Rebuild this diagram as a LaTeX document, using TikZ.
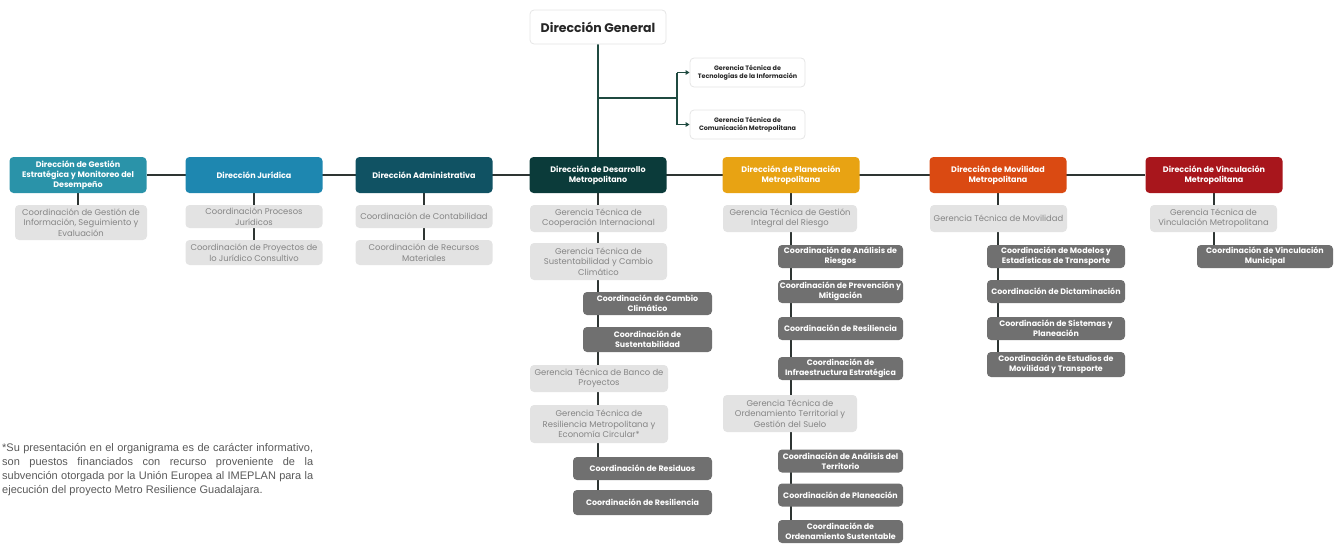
\documentclass[tikz,border=0pt]{standalone}
\usepackage{fontspec}
\setmainfont{Poppins}
\newfontfamily\notefont{Liberation Sans}
\usetikzlibrary{backgrounds,arrows.meta}
\definecolor{cGE}{HTML}{2A93A9}
\definecolor{cDJ}{HTML}{1E87B0}
\definecolor{cDA}{HTML}{105263}
\definecolor{cDD}{HTML}{0B3B3A}
\definecolor{cDP}{HTML}{E8A313}
\definecolor{cDM}{HTML}{DA4A12}
\definecolor{cDV}{HTML}{A8161C}
\definecolor{lite}{HTML}{E3E3E3}
\definecolor{litetxt}{HTML}{858585}
\definecolor{darkbox}{HTML}{707070}
\definecolor{conn}{HTML}{2E3533}
\definecolor{topconn}{HTML}{1F4A40}
\definecolor{notecol}{HTML}{595959}
\tikzset{
  base/.style={rounded corners=4pt, inner sep=0pt, align=center, anchor=center},
  dirbox/.style={base, fill=#1, text=white, minimum width=137pt, minimum height=36pt,
    font=\fontsize{8}{10}\selectfont\bfseries},
  litebox/.style={base, fill=lite, text=litetxt, minimum height=#1,
    font=\fontsize{8.4}{10.5}\selectfont},
  darkbx/.style={base, fill=darkbox, text=white, minimum height=#1,
    font=\fontsize{7.9}{9.6}\selectfont\bfseries},
  topbox/.style={base, fill=white, draw=black!10, line width=0.8pt, text=black!85},
  connline/.style={draw=conn, line width=1.6pt},
  topline/.style={draw=topconn, line width=1.6pt},
}
\begin{document}
\begin{tikzpicture}[x=1pt,y=-1pt]
\useasboundingbox (0,0) rectangle (1339,546);
% top
\node[topbox, minimum width=136pt, minimum height=34pt, font=\fontsize{12.5}{14}\selectfont\bfseries] (dg) at (598,27) {Dirección General};
\node[topbox, minimum width=115pt, minimum height=29pt, font=\fontsize{6.4}{8}\selectfont\bfseries] (gt1) at (747.5,72.5) {Gerencia Técnica de\\Tecnologías de la Información};
\node[topbox, minimum width=115pt, minimum height=29pt, font=\fontsize{6.4}{8}\selectfont\bfseries] (gt2) at (747.5,124.5) {Gerencia Técnica de\\Comunicación Metropolitana};
\coordinate (br) at (677,98);
% direcciones
\node[dirbox=cGE] (ge) at (78,175) {Dirección de Gestión\\Estratégica y Monitoreo del\\Desempeño};
\node[dirbox=cDJ] (dj) at (254,175) {Dirección Jurídica};
\node[dirbox=cDA] (da) at (424,175) {Dirección Administrativa};
\node[dirbox=cDD] (dd) at (598,175) {Dirección de Desarrollo\\Metropolitano};
\node[dirbox=cDP] (dp) at (791,175) {Dirección de Planeación\\Metropolitana};
\node[dirbox=cDM] (dm) at (998,175) {Dirección de Movilidad\\Metropolitana};
\node[dirbox=cDV] (dv) at (1214,175) {Dirección de Vinculación\\Metropolitana};
% GE
\node[litebox=35pt, minimum width=132pt] (ge1) at (81,222.5) {Coordinación de Gestión de\\Información, Seguimiento y\\Evaluación};
% J
\node[litebox=23pt, minimum width=137pt] (j1) at (254,216.5) {Coordinación Procesos\\Jurídicos};
\node[litebox=25pt, minimum width=137pt] (j2) at (254,252.5) {Coordinación de Proyectos de\\lo Jurídico Consultivo};
% A
\node[litebox=23pt, minimum width=137pt] (a1) at (424,216.5) {Coordinación de Contabilidad};
\node[litebox=25pt, minimum width=137pt] (a2) at (424,252.5) {Coordinación de Recursos\\Materiales};
% D
\node[litebox=27pt, minimum width=137pt] (d1) at (598.5,218.5) {Gerencia Técnica de\\Cooperación Internacional};
\node[litebox=37pt, minimum width=137pt] (d2) at (598.5,261.5) {Gerencia Técnica de\\Sustentabilidad y Cambio\\Climático};
\node[darkbx=23pt, minimum width=129pt] (d3) at (647.5,303.5) {Coordinación de Cambio\\Climático};
\node[darkbx=25pt, minimum width=129pt] (d4) at (647.5,339.5) {Coordinación de\\Sustentabilidad};
\node[litebox=27pt, minimum width=138pt] (d5) at (599,378.5) {Gerencia Técnica de Banco de\\Proyectos};
\node[litebox=38pt, minimum width=138pt] (d6) at (599,424) {Gerencia Técnica de\\Resiliencia Metropolitana y\\Economía Circular*};
\node[darkbx=23pt, minimum width=139pt] (d7) at (642.5,468.5) {Coordinación de Residuos};
\node[darkbx=25pt, minimum width=139pt] (d8) at (642.5,502.5) {Coordinación de Resiliencia};
% P
\node[litebox=27pt, minimum width=134pt] (p1) at (790,218.5) {Gerencia Técnica de Gestión\\Integral del Riesgo};
\node[darkbx=23pt, minimum width=125pt] (p2) at (840.5,256.5) {Coordinación de Análisis de\\Riesgos};
\node[darkbx=23pt, minimum width=125pt] (p3) at (840.5,291.5) {Coordinación de Prevención y\\Mitigación};
\node[darkbx=23pt, minimum width=125pt] (p4) at (840.5,328.5) {Coordinación de Resiliencia};
\node[darkbx=23pt, minimum width=125pt] (p5) at (840.5,368.5) {Coordinación de\\Infraestructura Estratégica};
\node[litebox=37pt, minimum width=134pt] (p6) at (790,413.5) {Gerencia Técnica de\\Ordenamiento Territorial y\\Gestión del Suelo};
\node[darkbx=23pt, minimum width=125pt] (p7) at (840.5,461) {Coordinación de Análisis del\\Territorio};
\node[darkbx=23pt, minimum width=125pt] (p8) at (840.5,495) {Coordinación de Planeación};
\node[darkbx=23pt, minimum width=125pt] (p9) at (840.5,531.5) {Coordinación de\\Ordenamiento Sustentable};
% M
\node[litebox=27pt, minimum width=137pt] (m1) at (998.5,218.5) {Gerencia Técnica de Movilidad};
\node[darkbx=23pt, minimum width=138pt] (m2) at (1056,256.5) {Coordinación de Modelos y\\Estadísticas de Transporte};
\node[darkbx=23pt, minimum width=138pt] (m3) at (1056,291.5) {Coordinación de Dictaminación};
\node[darkbx=23pt, minimum width=138pt] (m4) at (1056,328.5) {Coordinación de Sistemas y\\Planeación};
\node[darkbx=25pt, minimum width=138pt] (m5) at (1056,364.5) {Coordinación de Estudios de\\Movilidad y Transporte};
% V
\node[litebox=27pt, minimum width=127pt] (v1) at (1213.5,218.5) {Gerencia Técnica de\\Vinculación Metropolitana};
\node[darkbx=23pt, minimum width=136pt] (v2) at (1265,256.5) {Coordinación de Vinculación\\Municipal};
% note
\node[anchor=base west, inner sep=0pt, text width=311pt, align=justify, text=notecol,
  font=\notefont\fontsize{11}{14}\selectfont] (note) at (2,451)
  {*Su presentación en el organigrama es de carácter informativo,\linebreak
   son puestos financiados con recurso proveniente de la\linebreak
   subvención otorgada por la Unión Europea al IMEPLAN para la\linebreak
   ejecución del proyecto Metro Resilience Guadalajara.};
% connectors
\begin{pgfonlayer}{background}
\draw[topline] (dg.south) -- (dd.north);
\draw[topline] (dg.south |- br) -- (br);
\draw[topline] (br |- gt1.west) -- (br |- gt2.west);
\draw[topline, -{Triangle[length=4pt,width=4.5pt]}] (br |- gt1.west) -- (gt1.west);
\draw[topline, -{Triangle[length=4pt,width=4.5pt]}] (br |- gt2.west) -- (gt2.west);
\draw[connline] (ge.east) -- (dv.west);
\draw[connline] (ge.south) -- (ge1.north -| ge.south);
\draw[connline] (dj.south) -- (j2.north -| dj.south);
\draw[connline] (da.south) -- (a2.north -| da.south);
\draw[connline] (dd.south) -- (d8.north -| dd.south);
\draw[connline] (dp.south) -- (p9.north -| dp.south);
\draw[connline] (dm.south) -- (m5.north -| dm.south);
\draw[connline] (dv.south) -- (v2.north -| dv.south);
\end{pgfonlayer}
\end{tikzpicture}
\end{document}
